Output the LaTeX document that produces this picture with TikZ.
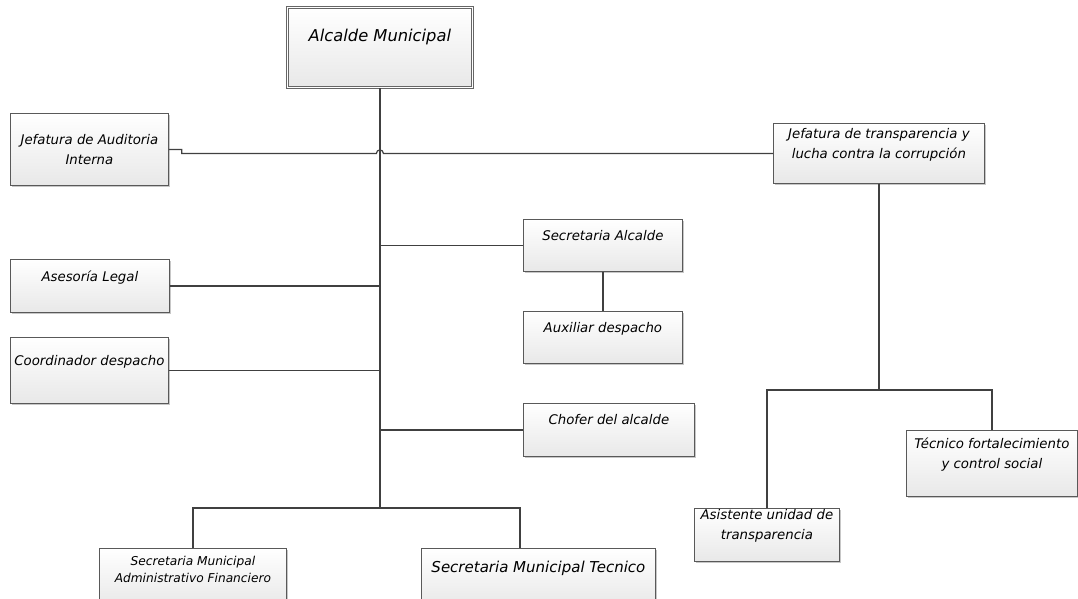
\documentclass[tikz,border=0pt]{standalone}
\usepackage{fontspec}
\setmainfont{DejaVu Sans}
\usetikzlibrary{positioning,shadows,calc}
\tikzset{
    unit/.style={
        rectangle,
        draw=black!65,
        line width=0.8pt,
        top color=white,
        bottom color=black!9,
        drop shadow={shadow xshift=2pt, shadow yshift=-2pt, fill=black!22, opacity=1},
        anchor=north west,
        align=center,
        inner sep=0pt,
        font=\itshape\fontsize{13.3}{20}\selectfont
    },
    link/.style={draw=black!75, line width=1.2pt}
}

\begin{document}
\begin{tikzpicture}[x=1pt, y=-1pt]
    \useasboundingbox (0,0) rectangle (1078,599);

    % Top
    \node[unit, draw=black!60, double=white, double distance=1.6pt,
          minimum width=185pt, minimum height=80pt,
          font=\itshape\fontsize{16.3}{24}\selectfont] (alcalde) at (287,7) {Alcalde Municipal\\~};

    % Staff units, left
    \node[unit, minimum width=158pt, minimum height=72pt] (auditoria) at (10,113) {Jefatura de Auditoria\\Interna};
    \node[unit, minimum width=159pt, minimum height=53pt] (asesoria) at (10,259) {Asesoría Legal\\~};
    \node[unit, minimum width=158pt, minimum height=66pt] (coordinador) at (10,337) {Coordinador despacho\\~};

    % Staff units, centre
    \node[unit, minimum width=159pt, minimum height=52pt] (secalcalde) at (523,219) {Secretaria Alcalde\\~};
    \node[unit, minimum width=159pt, minimum height=52pt] (auxiliar) at (523,311) {Auxiliar despacho\\~};
    \node[unit, minimum width=171pt, minimum height=53pt] (chofer) at (523,403) {Chofer del alcalde\\~};

    % Transparency unit, right
    \node[unit, minimum width=211pt, minimum height=60pt] (transparencia) at (773,123) {Jefatura de transparencia y\\lucha contra la corrupción\\~};
    \node[unit, minimum width=171pt, minimum height=66pt] (tecnico) at (906,430) {Técnico fortalecimiento\\y control social\\~};
    \node[unit, minimum width=145pt, minimum height=53pt] (asistente) at (694,508) {Asistente unidad de\\transparencia\\~};

    % Secretaries, bottom
    \node[unit, minimum width=187pt, minimum height=58pt,
          font=\itshape\fontsize{12.2}{17}\selectfont] (secadmin) at (99,548) {Secretaria Municipal\\Administrativo Financiero\\~};
    \node[unit, minimum width=234pt, minimum height=58pt,
          font=\itshape\fontsize{15}{22}\selectfont] (sectecnico) at (421,548) {Secretaria Municipal Tecnico\\~};

    % Connectors
    \coordinate (split) at (alcalde.south |- 0,508);
    \coordinate (rsplit) at (transparencia.south |- 0,390);
    \draw[link] (alcalde.south) -- (split);
    \draw[link] (auditoria.east) -- ++(13,0) |- ($(split |- transparencia.west)+(-3.5,0)$)
        arc[start angle=180, end angle=360, radius=3.5] -- (transparencia.west);
    \draw[link] (asesoria.east) -- (asesoria.east -| split);
    \draw[link] (coordinador.east) -- (coordinador.east -| split);
    \draw[link] (secalcalde.west) -- (secalcalde.west -| split);
    \draw[link] (chofer.west) -- (chofer.west -| split);
    \draw[link] (secalcalde.south) -- (auxiliar.north);
    \draw[link] (secadmin.north) |- (split) -| ($(sectecnico.north west)+(99,0)$);
    \draw[link] (transparencia.south) -- (rsplit);
    \draw[link] (asistente.north) |- (rsplit) -| (tecnico.north);
\end{tikzpicture}
\end{document}
